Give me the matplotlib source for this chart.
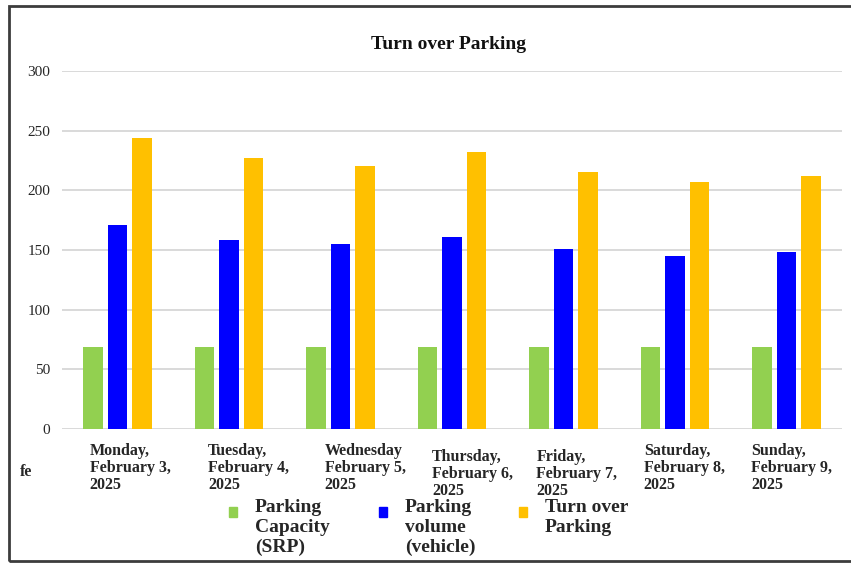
#!/usr/bin/env python3
# Turn over Parking - grouped bar chart (Mon 3 .. Sun 9 Feb 2025)
import matplotlib
matplotlib.use("Agg")
import matplotlib.pyplot as plt
import matplotlib.transforms as mtransforms
from matplotlib.patches import Rectangle
import numpy as np

# --- data -------------------------------------------------------------------
days = [
    "Monday,\nFebruary 3,\n2025",
    "Tuesday,\nFebruary 4,\n2025",
    "Wednesday\nFebruary 5,\n2025",
    "Thursday,\nFebruary 6,\n2025",
    "Friday,\nFebruary 7,\n2025",
    "Saturday,\nFebruary 8,\n2025",
    "Sunday,\nFebruary 9,\n2025",
]
capacity = [69, 69, 69, 69, 69, 69, 69]
volume = [171, 158, 155, 161, 151, 145, 148]
turnover = [244, 227, 220, 232, 215, 207, 212]
series_labels = ["Parking\nCapacity\n(SRP)", "Parking\nvolume\n(vehicle)", "Turn over\nParking"]
yticks = [0, 50, 100, 150, 200, 250, 300]

# --- style ------------------------------------------------------------------
colors = ["#92d050", "#0000ff", "#ffc000"]
serif = ["Liberation Serif", "DejaVu Serif"]
txt = "#262626"
# pixel offsets of each category label (left edge vs. category centre, top)
lab_dx = [-28, -21, -16, -20, -27, -31, -35]
lab_dy = [-14, -14, -14, -20, -20, -14, -14]

W, H = 851, 563
fig = plt.figure(figsize=(W / 100, H / 100), dpi=100)
ax = fig.add_axes([62 / W, (H - 429) / H, 780 / W, 358 / H])

x = np.arange(len(days))
width = 0.175
step = 0.22
for k, vals in enumerate([capacity, volume, turnover]):
    ax.bar(x + (k - 1) * step, vals, width, color=colors[k], zorder=3)

ax.set_xlim(-0.5, len(days) - 0.5)
ax.set_ylim(0, 300)
ax.set_yticks(yticks)
ax.set_yticklabels([str(v) for v in yticks], family=serif, fontsize=11, color=txt)
ax.tick_params(axis="y", length=0, pad=8.5)
ax.set_xticks([])
ax.grid(axis="y", color="#d9d9d9", lw=1.4, zorder=0)
for s in ax.spines.values():
    s.set_visible(False)

# category labels, left aligned, slightly staggered like the source
base = mtransforms.blended_transform_factory(ax.transData, ax.transAxes)
for i, lab in enumerate(days):
    tr = base + mtransforms.ScaledTranslation(lab_dx[i] / 100, lab_dy[i] / 100, fig.dpi_scale_trans)
    ax.text(i, 0, lab, transform=tr, ha="left", va="top", family=serif,
            fontweight="bold", fontsize=11.5, color=txt, linespacing=1.1)

fig.text(20 / W, 1 - 472 / H, "fe", family=serif, fontweight="bold",
         fontsize=11.5, color=txt, va="center")

fig.text(449 / W, 1 - 44.5 / H, "Turn over Parking", family=serif, fontweight="bold",
         fontsize=14, color="#111111", ha="center", va="center")

# legend: small squares + three-line labels
leg_mx = [229, 379, 519]
for k in range(3):
    fig.add_artist(Rectangle((leg_mx[k] / W, 1 - 517 / H), 8 / W, 10 / H,
                             transform=fig.transFigure, color=colors[k]))
    fig.text((leg_mx[k] + 26) / W, 1 - 499 / H, series_labels[k], family=serif,
             fontweight="bold", fontsize=14, color=txt, va="top",
             linespacing=1.2)

# outer frame
fig.add_artist(Rectangle((9 / W, 2 / H), 1.0, (561 - 6) / H, transform=fig.transFigure,
                         fill=False, edgecolor="#3c3c3c", lw=2))

fig.savefig("out.png", dpi=100)
